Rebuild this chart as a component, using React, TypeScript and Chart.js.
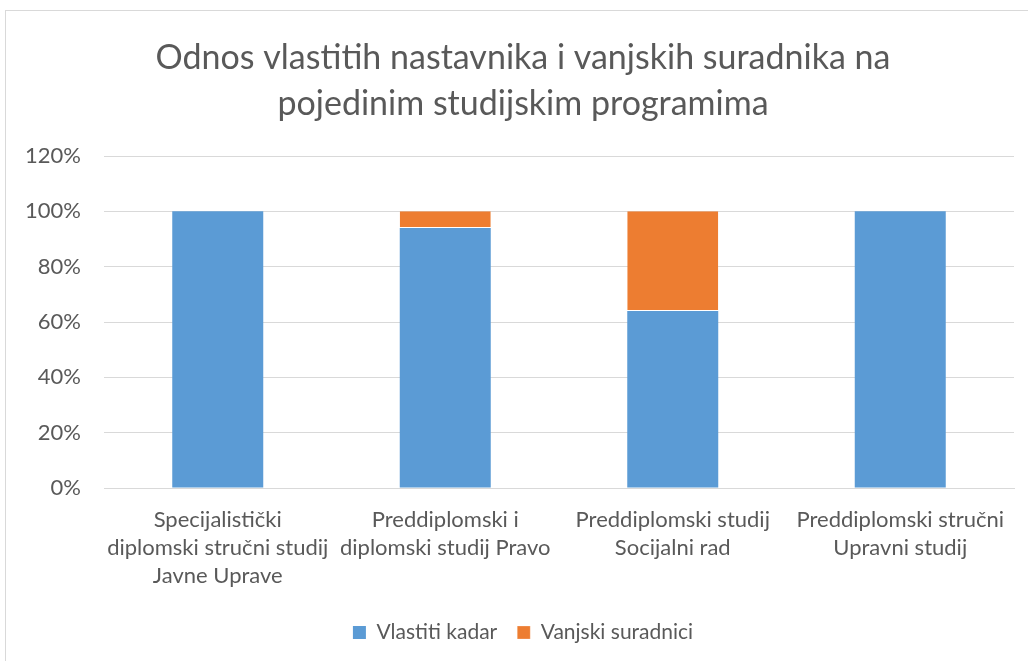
import React, { useEffect, useRef } from "react";
import { Chart, registerables } from "chart.js";

Chart.register(...registerables);

const TITLE_LINES = ["Odnos vlastitih nastavnika i vanjskih suradnika na", "pojedinim studijskim programima"];
const CATEGORIES: string[][] = [
  ["Specijalistički", "diplomski stručni studij", "Javne Uprave"],
  ["Preddiplomski i", "diplomski studij Pravo"],
  ["Preddiplomski studij", "Socijalni rad"],
  ["Preddiplomski stručni", "Upravni studij"],
];
const SERIES_NAMES = ["Vlastiti kadar", "Vanjski suradnici"];
const VLASTITI = [100, 94, 64, 100];
const VANJSKI = [0, 6, 36, 0];
const Y_TICKS = [0, 20, 40, 60, 80, 100, 120];

const TEXT = "#595959";
const GRID = "#D9D9D9";
const FONT = "Lato, 'Open Sans', sans-serif";

export default function App() {
  const ref = useRef<HTMLCanvasElement | null>(null);
  useEffect(() => {
    if (!ref.current) return;
    const chart = new Chart(ref.current, {
      type: "bar",
      data: {
        labels: CATEGORIES,
        datasets: [
          {
            label: SERIES_NAMES[0],
            data: VLASTITI,
            backgroundColor: "#5B9BD5",
            borderWidth: 0,
          },
          {
            label: SERIES_NAMES[1],
            data: VANJSKI,
            backgroundColor: "#ED7D31",
            borderColor: "#FFFFFF",
            borderWidth: { top: 0, left: 0, right: 0, bottom: 1 },
            borderSkipped: false,
          },
        ],
      },
      options: {
        animation: false,
        responsive: false,
        maintainAspectRatio: false,
        layout: { padding: { left: 0, right: 0, top: 0, bottom: 18 } },
        datasets: { bar: { categoryPercentage: 1, barPercentage: 0.4 } },
        plugins: {
          title: {
            display: true,
            text: TITLE_LINES,
            color: TEXT,
            font: { family: FONT, size: 34, weight: "normal", lineHeight: 46 / 34 },
            padding: { top: 24, bottom: 29 },
          },
          legend: {
            position: "bottom",
            labels: {
              color: TEXT,
              font: { family: FONT, size: 21 },
              boxWidth: 13,
              boxHeight: 13,
              padding: 20,
            },
          },
          tooltip: { enabled: false },
        },
        scales: {
          x: {
            stacked: true,
            grid: { display: false, drawTicks: false },
            border: { display: true, color: GRID, width: 1 },
            ticks: {
              color: TEXT,
              font: { family: FONT, size: 22, lineHeight: 28 / 22 },
              padding: 18,
              autoSkip: false,
              maxRotation: 0,
              minRotation: 0,
            },
            afterFit: (s: any) => {
              s.height = 114;
            },
          },
          y: {
            stacked: true,
            min: 0,
            max: 120,
            afterBuildTicks: (s: any) => {
              s.ticks = Y_TICKS.map((v) => ({ value: v }));
            },
            grid: { color: GRID, lineWidth: 1, drawTicks: false },
            border: { display: false },
            ticks: {
              color: TEXT,
              font: { family: FONT, size: 22 },
              padding: 23,
              callback: (v: any) => v + "%",
            },
            afterFit: (s: any) => {
              s.width = 98;
            },
          },
          yRight: {
            position: "right",
            display: true,
            grid: { display: false, drawTicks: false },
            border: { display: false },
            ticks: { display: false },
            afterFit: (s: any) => {
              s.width = 26;
            },
          },
        },
      },
    });
    return () => chart.destroy();
  }, []);

  return (
    <div style={{ position: "fixed", left: 0, top: 0, width: 1028, height: 661, overflow: "hidden", background: "#fff" }}>
      <div
        style={{
          position: "absolute",
          left: 5,
          top: 10,
          width: 1034,
          height: 670,
          borderLeft: "1.5px solid #D9D9D9",
          borderTop: "1.5px solid #D9D9D9",
          boxSizing: "border-box",
        }}
      >
        <canvas ref={ref} width={1034} height={660} style={{ display: "block" }} />
      </div>
    </div>
  );
}
